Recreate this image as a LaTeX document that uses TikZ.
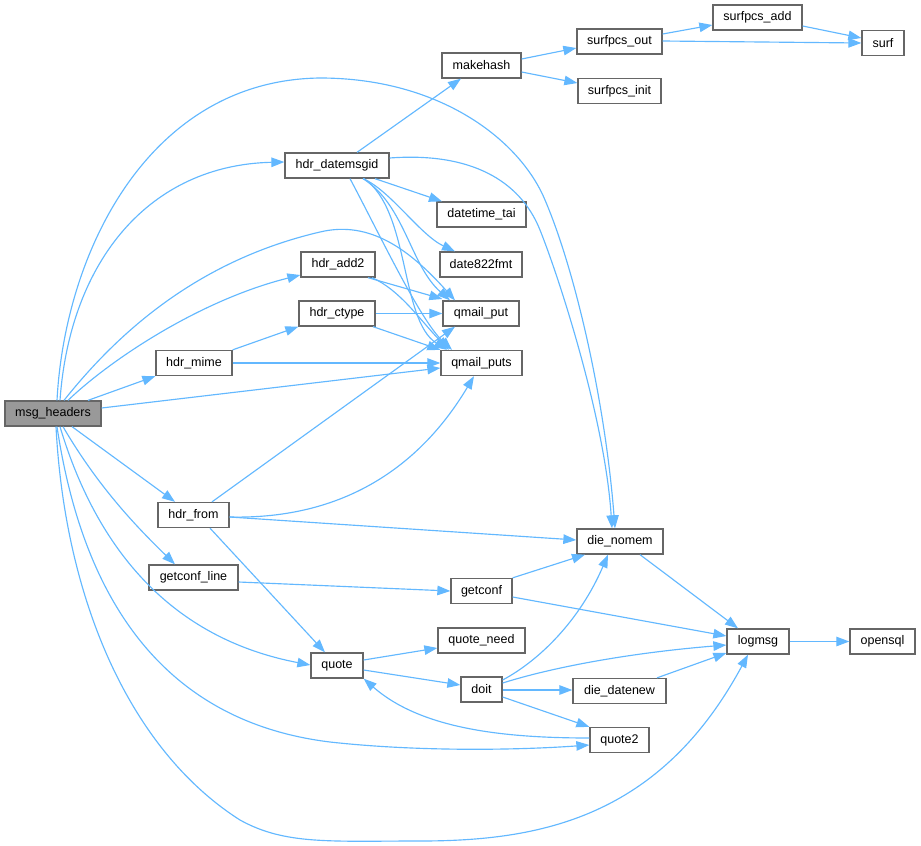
\documentclass[tikz,border=0pt]{standalone}
\usepackage{fontspec}
\setmainfont{Liberation Sans}
\usetikzlibrary{arrows.meta}
\definecolor{edgec}{HTML}{63B8FF}
\definecolor{nodeb}{HTML}{666666}
\definecolor{rootf}{HTML}{999999}
\begin{document}
\begin{tikzpicture}[x=1pt,y=-1pt,
  box/.style={draw=nodeb, line width=1.3pt, fill=white, minimum height=25pt, inner sep=0pt,
    font=\fontsize{12.5}{14}\selectfont, text=black},
  rootbox/.style={box, fill=rootf},
  e/.style={draw=edgec, line width=1.15pt, -{Triangle[length=13pt,width=9.5pt]}}]
\useasboundingbox (0,0) rectangle (921,846);
% nodes
\node[rootbox, minimum width=96pt] (msgh) at (53,413.5) {msg\_headers};
\node[box, minimum width=104pt] (datemsgid) at (337,165.5) {hdr\_datemsgid};
\node[box, minimum width=79pt] (makehash) at (481.5,65.5) {makehash};
\node[box, minimum width=85pt] (sout) at (619.5,41.5) {surfpcs\_out};
\node[box, minimum width=83pt] (sinit) at (619.5,91) {surfpcs\_init};
\node[box, minimum width=89pt] (sadd) at (757.5,17.5) {surfpcs\_add};
\node[box, minimum width=42pt] (surf) at (883,43) {surf};
\node[box, minimum width=89pt] (datetime) at (481.5,214.5) {datetime\_tai};
\node[box, minimum width=82pt] (date822) at (481,264.5) {date822fmt};
\node[box, minimum width=74pt] (add2) at (338,264.5) {hdr\_add2};
\node[box, minimum width=76pt] (ctype) at (337,313.5) {hdr\_ctype};
\node[box, minimum width=76pt] (qput) at (481,313.5) {qmail\_put};
\node[box, minimum width=81pt] (qputs) at (481.5,363) {qmail\_puts};
\node[box, minimum width=76pt] (mime) at (194,363) {hdr\_mime};
\node[box, minimum width=71pt] (from) at (193.5,515) {hdr\_from};
\node[box, minimum width=89pt] (getconfline) at (193.5,577.5) {getconf\_line};
\node[box, minimum width=86pt] (die) at (620,541.5) {die\_nomem};
\node[box, minimum width=61pt] (getconf) at (481.5,591) {getconf};
\node[box, minimum width=87pt] (quoteneed) at (481.5,640.5) {quote\_need};
\node[box, minimum width=62pt] (logmsg) at (758,641.5) {logmsg};
\node[box, minimum width=65pt] (opensql) at (882.5,641.5) {opensql};
\node[box, minimum width=52pt] (quote) at (337,665.5) {quote};
\node[box, minimum width=41pt] (doit) at (481.5,689.5) {doit};
\node[box, minimum width=93pt] (datenew) at (619.5,691) {die\_datenew};
\node[box, minimum width=59pt] (quotetwo) at (619.5,740) {quote2};
% edges from msg_headers
\draw[e] (msgh.north -| 60,0) .. controls (70,260) and (150,165) .. (datemsgid.west |- 0,162);
\draw[e] (msgh.north -| 57,0) .. controls (65,250) and (150,80) .. (320,78)
  .. controls (440,78) and (520,140) .. (545,200)
  .. controls (575,270) and (605,400) .. (die.north -| 615,0);
\draw[e] (msgh.north -| 68,0) .. controls (110,360) and (200,300) .. (add2.west |- 0,275);
\draw[e] (msgh.north -| 64,0) .. controls (120,330) and (200,260) .. (320,232)
  .. controls (370,220) and (410,250) .. (qput.north -| 455,0);
\draw[e] (msgh.north -| 88,0) -- (mime.south west);
\draw[e] (msgh.east |- 0,408) -- (qputs.west |- 0,368);
\draw[e] (msgh.south -| 72,0) -- (from.north -| 175,0);
\draw[e] (msgh.south -| 63,0) .. controls (100,490) and (140,530) .. (getconfline.north -| 175,0);
\draw[e] (msgh.south -| 60,0) .. controls (100,560) and (180,640) .. (quote.west |- 0,665);
\draw[e] (msgh.south -| 57,0) .. controls (80,580) and (150,720) .. (330,742)
  .. controls (420,752) and (520,750) .. (quotetwo.west |- 0,745);
\draw[e] (msgh.south -| 56,0) .. controls (65,600) and (130,750) .. (240,820)
  .. controls (285,845) and (330,841) .. (420,841)
  .. controls (540,841) and (660,818) .. (logmsg.south -| 748,0);
% edges from hdr_datemsgid
\draw[e] (datemsgid.north -| 357,0) -- (makehash.south -| 461,0);
\draw[e] (datemsgid.east |- 0,158) .. controls (470,152) and (520,180) .. (540,230)
  .. controls (560,280) and (605,420) .. (die.north -| 612,0);
\draw[e] (datemsgid.south -| 375,0) -- (datetime.north -| 442,0);
\draw[e] (datemsgid.south -| 363,0) .. controls (390,190) and (420,235) .. (date822.north -| 455,0);
\draw[e] (datemsgid.south -| 363,0) .. controls (405,205) and (410,265) .. (qput.north -| 450,0);
\draw[e] (datemsgid.south -| 364,0) .. controls (410,210) and (400,320) .. (qputs.north -| 447,0);
\draw[e] (datemsgid.south -| 350,0) .. controls (380,235) and (420,320) .. (qputs.north -| 452,0);
% edges from hdr_add2, hdr_ctype, hdr_mime
\draw[e] (add2.south -| 368,0) -- (qput.west |- 0,299);
\draw[e] (add2.south -| 372,0) .. controls (400,290) and (420,320) .. (qputs.north -| 449,0);
\draw[e] (ctype.east) -- (qput.west);
\draw[e] (ctype.south -| 373,0) -- (qputs.north west);
\draw[e] (mime.north east) -- (ctype.south west);
\draw[e] (mime.east) -- (qputs.west);
% edges from hdr_from
\draw[e] (from.north -| 212,0) -- (qput.south -| 455,0);
\draw[e] (from.east |- 0,517) .. controls (360,520) and (430,450) .. (qputs.south -| 474,0);
\draw[e] (from.east |- 0,517) -- (die.west |- 0,540);
\draw[e] (from.south -| 210,0) -- (quote.north -| 325,0);
% getconf
\draw[e] (getconfline.east |- 0,582) -- (getconf.west);
\draw[e] (getconf.north east) -- (die.south -| 585,0);
\draw[e] (getconf.east |- 0,597) -- (logmsg.west |- 0,636);
\draw[e] (die.south -| 640,0) -- (logmsg.north -| 738,0);
\draw[e] (logmsg.east) -- (opensql.west);
% quote and doit
\draw[e] (quote.east |- 0,660) -- (quoteneed.west |- 0,648);
\draw[e] (quote.east |- 0,670) -- (doit.west |- 0,685);
\draw[e] (doit.east |- 0,680) .. controls (540,660) and (580,620) .. (die.south -| 608,0);
\draw[e] (doit.east |- 0,683) .. controls (560,665) and (640,652) .. (logmsg.west |- 0,645);
\draw[e] (doit.east |- 0,690) -- (datenew.west |- 0,690);
\draw[e] (doit.east |- 0,697) -- (quotetwo.north west);
\draw[e] (datenew.north -| 657,0) -- (logmsg.west |- 0,653);
\draw[e] (quotetwo.west |- 0,738) .. controls (500,738) and (420,728) .. (quote.south east);
% makehash and surfpcs
\draw[e] (makehash.east |- 0,59) -- (sout.west |- 0,48);
\draw[e] (makehash.east |- 0,72) -- (sinit.west |- 0,83);
\draw[e] (sout.east |- 0,34) -- (sadd.west |- 0,25);
\draw[e] (sout.east |- 0,41) -- (surf.west |- 0,43);
\draw[e] (sadd.east |- 0,26) -- (surf.west |- 0,38);
\end{tikzpicture}
\end{document}
